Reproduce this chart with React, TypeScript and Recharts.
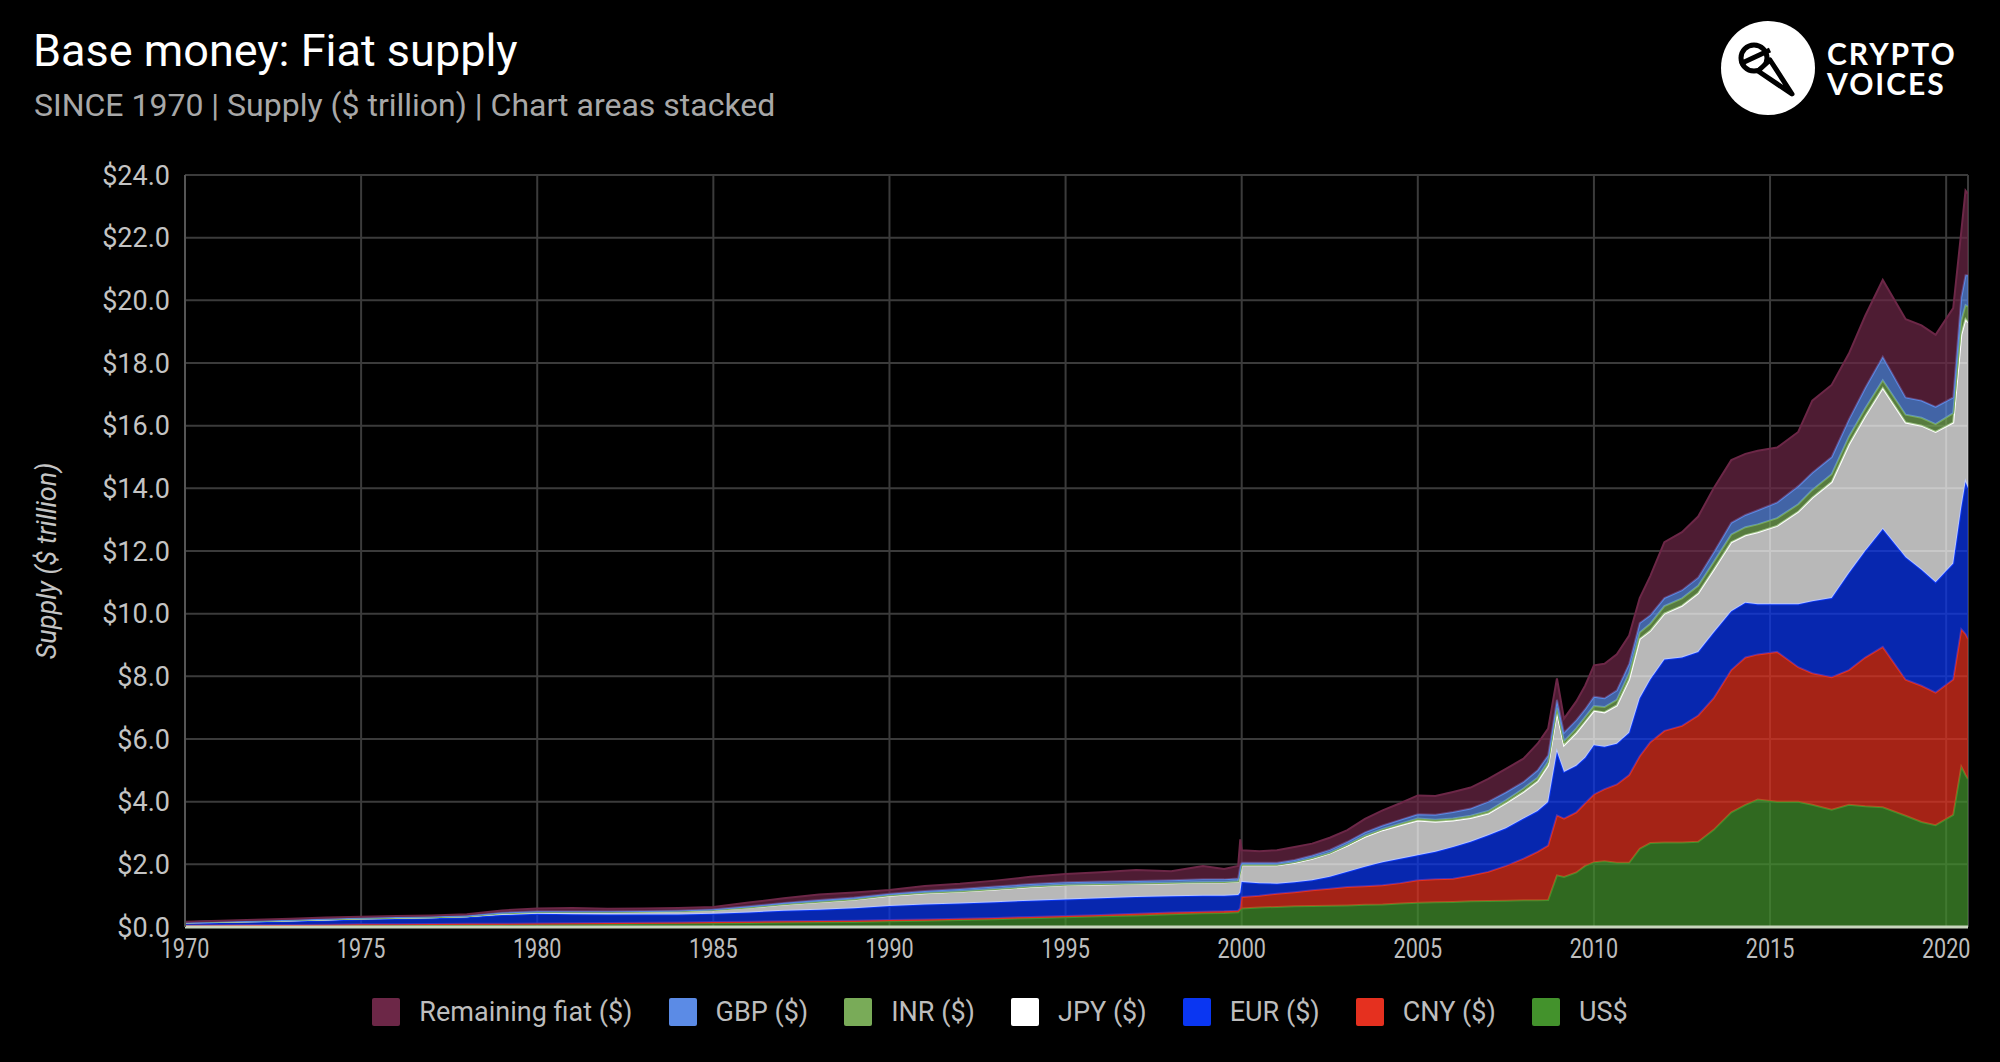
import { Area, AreaChart, CartesianGrid, XAxis, YAxis } from "recharts";

// decimal years of each reading
const years = [
  1970, 1971, 1972, 1973, 1974, 1975, 1976, 1977, 1978, 1979, 1980, 1981, 1982, 1983, 1984,
  1985, 1986, 1987, 1988, 1989, 1990, 1991, 1992, 1993, 1994, 1995, 1996, 1997, 1998,
  1998.9, 1999.5, 1999.9, 1999.96,
  2000, 2000.5, 2001, 2001.5, 2002, 2002.5, 2003, 2003.5, 2004, 2004.5, 2005, 2005.5, 2006,
  2006.5, 2007, 2007.5, 2008,
  2008.4, 2008.7, 2008.95, 2009.15, 2009.5, 2009.75,
  2010, 2010.3, 2010.65, 2011, 2011.3, 2011.6, 2012, 2012.5, 2012.96, 2013.4, 2013.9, 2014.3,
  2014.65, 2015.2, 2015.8, 2016.2, 2016.75, 2017.24, 2017.7, 2018.2, 2018.85, 2019.3, 2019.7,
  2020.2, 2020.43, 2020.55, 2020.62,
];

// $ trillion, per currency (stacked in the chart)
const usd = [
  0.03, 0.035, 0.04, 0.045, 0.05, 0.055, 0.06, 0.065, 0.07, 0.075, 0.08, 0.085, 0.09, 0.1, 0.11,
  0.12, 0.13, 0.14, 0.15, 0.16, 0.18, 0.2, 0.22, 0.25, 0.28, 0.31, 0.34, 0.37, 0.41,
  0.44, 0.45, 0.47, 0.55,
  0.59, 0.62, 0.64, 0.66, 0.67, 0.68, 0.69, 0.71, 0.72, 0.75, 0.77, 0.79, 0.8, 0.82, 0.83, 0.84, 0.85,
  0.85, 0.86, 1.65, 1.6, 1.74, 1.95,
  2.07, 2.1, 2.05, 2.05, 2.5, 2.68, 2.7, 2.7, 2.72, 3.1, 3.66, 3.9, 4.07, 4.0, 4.0, 3.9, 3.74,
  3.9, 3.85, 3.82, 3.55, 3.35, 3.25, 3.58, 5.12, 4.85, 4.72,
];
const cny = [
  0.02, 0.02, 0.02, 0.02, 0.025, 0.03, 0.03, 0.03, 0.03, 0.03, 0.03, 0.035, 0.035, 0.035, 0.035,
  0.04, 0.04, 0.04, 0.04, 0.04, 0.04, 0.04, 0.04, 0.04, 0.04, 0.04, 0.04, 0.05, 0.05,
  0.05, 0.05, 0.05, 0.05,
  0.37, 0.38, 0.42, 0.45, 0.5, 0.54, 0.59, 0.59, 0.61, 0.65, 0.72, 0.73, 0.74, 0.82, 0.93, 1.11, 1.33,
  1.55, 1.74, 1.91, 1.86, 1.92, 2.0,
  2.16, 2.3, 2.5, 2.8, 2.95, 3.22, 3.56, 3.72, 4.03, 4.2, 4.54, 4.7, 4.63, 4.78, 4.29, 4.2, 4.23,
  4.3, 4.75, 5.12, 4.34, 4.35, 4.23, 4.32, 4.38, 4.5, 4.48,
];
const eur = [
  0.07, 0.085, 0.1, 0.115, 0.135, 0.16, 0.17, 0.185, 0.21, 0.275, 0.31, 0.29, 0.275, 0.265, 0.255,
  0.26, 0.29, 0.34, 0.36, 0.4, 0.45, 0.48, 0.49, 0.5, 0.52, 0.53, 0.54, 0.54, 0.52,
  0.51, 0.5, 0.5, 0.5,
  0.48, 0.4, 0.32, 0.32, 0.32, 0.38, 0.48, 0.62, 0.74, 0.78, 0.8, 0.88, 1.01, 1.08, 1.17, 1.2, 1.28,
  1.3, 1.39, 2.03, 1.49, 1.49, 1.45,
  1.57, 1.35, 1.3, 1.35, 1.85, 2.0, 2.28, 2.18, 2.03, 2.1, 1.88, 1.75, 1.6, 1.52, 2.01, 2.3, 2.53,
  3.1, 3.4, 3.76, 3.91, 3.7, 3.52, 3.7, 3.9, 4.85, 4.8,
];
const jpy = [
  0.02, 0.02, 0.02, 0.03, 0.03, 0.025, 0.03, 0.03, 0.03, 0.05, 0.05, 0.06, 0.07, 0.08, 0.1,
  0.12, 0.16, 0.2, 0.25, 0.28, 0.33, 0.36, 0.38, 0.41, 0.44, 0.46, 0.44, 0.42, 0.42,
  0.42, 0.43, 0.43, 0.65,
  0.53, 0.57, 0.59, 0.62, 0.69, 0.75, 0.84, 0.96, 1.02, 1.07, 1.11, 0.96, 0.85, 0.76, 0.69, 0.8, 0.85,
  0.95, 1.17, 1.27, 0.85, 1.05, 1.15,
  1.1, 1.1, 1.22, 1.7, 1.89, 1.55, 1.46, 1.65, 1.87, 2.0, 2.2, 2.15, 2.3, 2.5, 2.95, 3.3, 3.7,
  4.1, 4.3, 4.5, 4.3, 4.6, 4.8, 4.5, 5.5, 5.2, 5.3,
];
const inr = [
  0.005, 0.005, 0.005, 0.005, 0.005, 0.005, 0.005, 0.005, 0.005, 0.005, 0.005, 0.005, 0.005, 0.005, 0.005,
  0.005, 0.005, 0.005, 0.005, 0.005, 0.01, 0.01, 0.01, 0.01, 0.01, 0.01, 0.01, 0.01, 0.01,
  0.01, 0.01, 0.01, 0.03,
  0.02, 0.02, 0.02, 0.02, 0.02, 0.02, 0.03, 0.04, 0.04, 0.05, 0.06, 0.06, 0.06, 0.07, 0.08, 0.09, 0.11,
  0.11, 0.12, 0.14, 0.12, 0.14, 0.15,
  0.15, 0.17, 0.18, 0.2, 0.21, 0.23, 0.24, 0.24, 0.24, 0.25, 0.25, 0.26, 0.25, 0.25, 0.24, 0.25, 0.25,
  0.25, 0.25, 0.25, 0.25, 0.25, 0.25, 0.3, 0.45, 0.45, 0.5,
];
const gbp = [
  0.01, 0.015, 0.015, 0.015, 0.02, 0.025, 0.025, 0.025, 0.025, 0.025, 0.025, 0.025, 0.025, 0.025, 0.025,
  0.025, 0.035, 0.045, 0.055, 0.055, 0.05, 0.06, 0.07, 0.08, 0.08, 0.08, 0.08, 0.08, 0.08,
  0.09, 0.08, 0.09, 0.17,
  0.06, 0.06, 0.06, 0.07, 0.08, 0.09, 0.09, 0.1, 0.11, 0.12, 0.14, 0.16, 0.21, 0.23, 0.3, 0.26, 0.21,
  0.24, 0.2, 0.25, 0.28, 0.26, 0.25,
  0.3, 0.28, 0.3, 0.3, 0.3, 0.27, 0.26, 0.26, 0.26, 0.3, 0.37, 0.39, 0.45, 0.5, 0.58, 0.55, 0.55,
  0.55, 0.65, 0.75, 0.55, 0.55, 0.55, 0.5, 0.75, 0.95, 1.0,
];
const remaining = [
  0.015, 0.02, 0.03, 0.03, 0.035, 0.03, 0.03, 0.03, 0.04, 0.07, 0.09, 0.11, 0.08, 0.08, 0.08,
  0.07, 0.12, 0.15, 0.18, 0.16, 0.12, 0.16, 0.17, 0.19, 0.23, 0.26, 0.3, 0.35, 0.29,
  0.43, 0.33, 0.4, 0.85,
  0.4, 0.37, 0.4, 0.41, 0.38, 0.39, 0.37, 0.43, 0.48, 0.53, 0.6, 0.6, 0.64, 0.67, 0.73, 0.75, 0.74,
  0.85, 0.85, 0.68, 0.45, 0.6, 0.75,
  1.0, 1.1, 1.15, 0.9, 0.8, 1.25, 1.78, 1.85, 1.95, 2.05, 2.0, 1.95, 1.9, 1.75, 1.73, 2.3, 2.3,
  2.1, 2.3, 2.45, 2.5, 2.4, 2.3, 2.85, 2.1, 2.7, 2.6,
];

const xTicks = [1970, 1975, 1980, 1985, 1990, 1995, 2000, 2005, 2010, 2015, 2020];
const yTicks = [0, 2, 4, 6, 8, 10, 12, 14, 16, 18, 20, 22, 24];

// bottom of the stack first
const series = [
  { key: "usd", name: "US$", color: "#43922c" },
  { key: "cny", name: "CNY ($)", color: "#e5301f" },
  { key: "eur", name: "EUR ($)", color: "#0a36f2" },
  { key: "jpy", name: "JPY ($)", color: "#ffffff" },
  { key: "inr", name: "INR ($)", color: "#79ab58" },
  { key: "gbp", name: "GBP ($)", color: "#5b8be6" },
  { key: "remaining", name: "Remaining fiat ($)", color: "#6c2747" },
];

const XTick = ({ x, y, payload }: any) => (
  <g transform={`translate(${x},${y})`}>
    <text transform="scale(0.8,1)" textAnchor="middle" dy="0.71em" fill="#bdbdbd" fontSize={27}>
      {payload.value}
    </text>
  </g>
);

const logoText = {
  position: "absolute" as const,
  left: 1827,
  fontFamily: "Lato, sans-serif",
  fontWeight: 700,
  fontSize: 30,
  lineHeight: "29px",
  height: 29,
  color: "#fff",
  letterSpacing: 2,
};

const App = () => {
  const rows = years.map((t, i) => ({
    t,
    usd: usd[i],
    cny: cny[i],
    eur: eur[i],
    jpy: jpy[i],
    inr: inr[i],
    gbp: gbp[i],
    remaining: remaining[i],
  }));

  return (
    <div
      style={{
        position: "fixed",
        left: 0,
        top: 0,
        width: 2000,
        height: 1062,
        background: "#000",
        fontFamily: "Roboto, sans-serif",
        overflow: "hidden",
      }}
    >
      <div style={{ position: "absolute", left: 33, top: 23, fontSize: 45, color: "#fff", lineHeight: "56px" }}>
        Base money: Fiat supply
      </div>
      <div style={{ position: "absolute", left: 34, top: 85, fontSize: 32, color: "#a8a8a8", lineHeight: "40px" }}>
        SINCE 1970 | Supply ($ trillion) | Chart areas stacked
      </div>

      {/* logo */}
      <svg style={{ position: "absolute", left: 1718, top: 18 }} width={100} height={100} viewBox="0 0 100 100">
        <circle cx={50} cy={50} r={47} fill="#fff" />
        <circle cx={36} cy={40} r={13} fill="none" stroke="#000" strokeWidth={5} />
        <line x1={22} y1={46} x2={52} y2={32} stroke="#000" strokeWidth={5} />
        <path d="M40 53 L52 42 L74 76 Z" fill="#fff" stroke="#000" strokeWidth={5} strokeLinejoin="round" />
      </svg>
      <div style={{ ...logoText, top: 39 }}>CRYPTO</div>
      <div style={{ ...logoText, top: 69 }}>VOICES</div>

      <div
        style={{
          position: "absolute",
          left: 47,
          top: 561,
          transform: "translate(-50%, -50%) rotate(-90deg)",
          whiteSpace: "nowrap",
          fontStyle: "italic",
          fontSize: 27,
          color: "#c4c4c4",
        }}
      >
        Supply ($ trillion)
      </div>

      <div style={{ position: "absolute", left: 0, top: 0 }}>
        <AreaChart width={2000} height={1062} data={rows} margin={{ top: 175, right: 32, bottom: 100, left: 0 }}>
          <CartesianGrid stroke="#3b3b3b" strokeWidth={2} />
          <XAxis
            type="number"
            dataKey="t"
            domain={[1970, 2020.62]}
            ticks={xTicks}
            interval={0}
            allowDataOverflow
            height={35}
            tickSize={0}
            tickMargin={12}
            tick={XTick}
            axisLine={{ stroke: "#c9d6be", strokeWidth: 3 }}
          />
          <YAxis
            type="number"
            domain={[0, 24]}
            ticks={yTicks}
            interval={0}
            width={185}
            tickSize={0}
            tickMargin={15}
            tickFormatter={(v: number) => `$${v.toFixed(1)}`}
            tick={{ fill: "#c4c4c4", fontSize: 27 }}
            axisLine={{ stroke: "#555", strokeWidth: 2 }}
          />
          {series.map((s) => (
            <Area
              key={s.key}
              dataKey={s.key}
              name={s.name}
              type="linear"
              stackId="fiat"
              stroke={s.color}
              strokeWidth={2}
              fill={s.color}
              fillOpacity={0.72}
              dot={false}
              activeDot={false}
              isAnimationActive={false}
            />
          ))}
        </AreaChart>
      </div>

      {/* legend, top of the stack first */}
      <div
        style={{
          position: "absolute",
          left: 0,
          width: 2000,
          top: 996,
          display: "flex",
          justifyContent: "center",
          gap: 36,
          paddingLeft: 0,
        }}
      >
        {[...series].reverse().map((s) => (
          <div key={s.key} style={{ display: "flex", alignItems: "center" }}>
            <div style={{ width: 28, height: 28, background: s.color, borderRadius: 2, marginRight: 19 }} />
            <span style={{ fontSize: 27, color: "#bdbdbd" }}>{s.name}</span>
          </div>
        ))}
      </div>
    </div>
  );
};

export default App;
